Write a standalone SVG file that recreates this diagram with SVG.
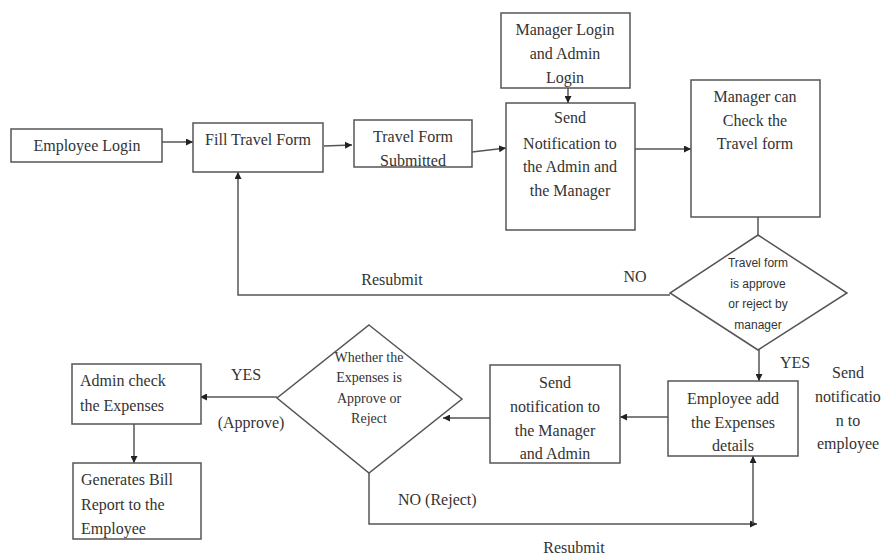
<svg xmlns="http://www.w3.org/2000/svg" width="885" height="556" viewBox="0 0 885 556">
<style>
.box{fill:#fff;stroke:#555;stroke-width:1.5}
.t{font-family:"Liberation Serif","Times New Roman",serif;font-size:16px;fill:#333}
.c{text-anchor:middle}
.s{font-family:"Liberation Sans",Arial,sans-serif;font-size:12px;fill:#333;text-anchor:middle}
.sm{font-family:"Liberation Serif","Times New Roman",serif;font-size:14px;fill:#333;text-anchor:middle}
.ln{fill:none;stroke:#555;stroke-width:1.5}
</style>
<defs>
<marker id="ah" viewBox="0 0 10 10" refX="10" refY="5" markerWidth="7" markerHeight="7" orient="auto" markerUnits="userSpaceOnUse">
<path d="M0,0 L10,5 L0,10 z" fill="#222"/>
</marker>
</defs>
<rect width="885" height="556" fill="#fff"/>

<g id="connectors">
<line class="ln" x1="162" y1="142" x2="193" y2="142" marker-end="url(#ah)"/>
<line class="ln" x1="324" y1="146" x2="352" y2="145" marker-end="url(#ah)"/>
<line class="ln" x1="472" y1="152" x2="506" y2="148" marker-end="url(#ah)"/>
<line class="ln" x1="568" y1="86" x2="568" y2="103" marker-end="url(#ah)"/>
<line class="ln" x1="635" y1="149" x2="691" y2="149" marker-end="url(#ah)"/>
<line class="ln" x1="758" y1="217" x2="758" y2="235"/>
<polyline class="ln" points="670,295 238,295 238,172" marker-end="url(#ah)"/>
<line class="ln" x1="759" y1="350" x2="759" y2="381" marker-end="url(#ah)"/>
<line class="ln" x1="668" y1="417" x2="620" y2="417" marker-end="url(#ah)"/>
<line class="ln" x1="490" y1="418" x2="443" y2="418" marker-end="url(#ah)"/>
<line class="ln" x1="277" y1="397" x2="200" y2="397" marker-end="url(#ah)"/>
<line class="ln" x1="134" y1="424" x2="134" y2="463" marker-end="url(#ah)"/>
<polyline class="ln" points="369,473 369,524 757,524" marker-end="url(#ah)"/>
<line class="ln" x1="753" y1="524" x2="753" y2="456" marker-end="url(#ah)"/>
<text class="t c" x="392" y="285">Resubmit</text>
<text class="t c" x="635" y="282">NO</text>
<text class="t c" x="795" y="368">YES</text>
<text class="t c" x="246" y="380">YES</text>
<text class="t c" x="251" y="428">(Approve)</text>
<text class="t" x="398" y="505">NO (Reject)</text>
<text class="t c" x="574" y="553">Resubmit</text>
<text class="t c" x="848" y="378">Send</text>
<text class="t c" x="848" y="402">notificatio</text>
<text class="t c" x="848" y="426">n to</text>
<text class="t c" x="848" y="449">employee</text>
</g>

<g id="employee-login">
<rect class="box" x="11" y="129" width="151" height="33"/>
<text class="t c" x="87" y="151">Employee Login</text>
</g>

<g id="fill-travel-form">
<rect class="box" x="193" y="123" width="130" height="49"/>
<text class="t c" x="258" y="145">Fill Travel Form</text>
</g>

<g id="travel-form-submitted">
<rect class="box" x="354" y="120" width="118" height="47"/>
<text class="t c" x="413" y="142">Travel Form</text>
<text class="t c" x="413" y="166">Submitted</text>
</g>

<g id="manager-admin-login">
<rect class="box" x="501" y="13" width="129" height="75"/>
<text class="t c" x="565" y="35">Manager Login</text>
<text class="t c" x="565" y="59">and Admin</text>
<text class="t c" x="565" y="83">Login</text>
</g>

<g id="send-notification-admin-manager">
<rect class="box" x="506" y="103" width="129" height="127"/>
<text class="t c" x="570" y="123">Send</text>
<text class="t c" x="570" y="149">Notification to</text>
<text class="t c" x="570" y="172">the Admin and</text>
<text class="t c" x="570" y="196">the Manager</text>
</g>

<g id="manager-check">
<rect class="box" x="691" y="80" width="129" height="137"/>
<text class="t c" x="755" y="102">Manager can</text>
<text class="t c" x="755" y="126">Check the</text>
<text class="t c" x="755" y="149">Travel form</text>
</g>

<g id="decision-travel-form">
<polygon class="box" points="758,235 847,293 758,350 670,293"/>
<text class="s" x="758" y="267">Travel form</text>
<text class="s" x="758" y="288">is approve</text>
<text class="s" x="758" y="308">or reject by</text>
<text class="s" x="758" y="329">manager</text>
</g>

<g id="employee-add-expenses">
<rect class="box" x="668" y="381" width="130" height="75"/>
<text class="t c" x="733" y="404">Employee add</text>
<text class="t c" x="733" y="428">the Expenses</text>
<text class="t c" x="733" y="451">details</text>
</g>

<g id="send-notification-manager-admin">
<rect class="box" x="490" y="365" width="130" height="98"/>
<text class="t c" x="555" y="388">Send</text>
<text class="t c" x="555" y="412">notification to</text>
<text class="t c" x="555" y="436">the Manager</text>
<text class="t c" x="555" y="459">and Admin</text>
</g>

<g id="decision-expenses">
<polygon class="box" points="369,325 462,399 369,473 277,398"/>
<text class="sm" x="369" y="362">Whether the</text>
<text class="sm" x="369" y="382">Expenses is</text>
<text class="sm" x="369" y="403">Approve or</text>
<text class="sm" x="369" y="423">Reject</text>
</g>

<g id="admin-check">
<rect class="box" x="72" y="364" width="129" height="60"/>
<text class="t" x="80" y="386">Admin check</text>
<text class="t" x="80" y="411">the Expenses</text>
</g>

<g id="generates-bill">
<rect class="box" x="73" y="463" width="128" height="76"/>
<text class="t" x="81" y="485">Generates Bill</text>
<text class="t" x="81" y="510">Report to the</text>
<text class="t" x="81" y="534">Employee</text>
</g>
</svg>
